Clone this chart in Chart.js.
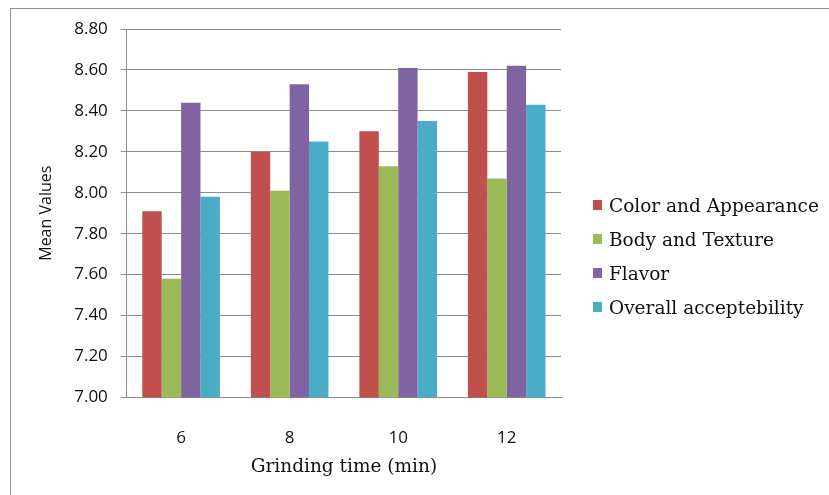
<!DOCTYPE html>
<html>
<head>
<meta charset="utf-8">
<script src="https://cdn.jsdelivr.net/npm/chart.js@4/dist/chart.umd.min.js"></script>
<style>
  body { margin: 0; background: #fff; }
  #wrap { position: relative; width: 829px; height: 495px; }
  #frame { position: absolute; left: 10px; top: 8px; width: 830px; height: 500px;
           border-left: 1px solid #8f8f8f; border-top: 1px solid #8f8f8f; }
  canvas { position: absolute; left: 0; top: 0; }
</style>
</head>
<body>
<div id="wrap">
  <div id="frame"></div>
  <canvas id="chart" width="829" height="495"></canvas>
</div>
<script>
var categorie = ['6', '8', '10', '12'];
var coloreAspetto = [7.91, 8.20, 8.30, 8.59];
var corpoTexture = [7.58, 8.01, 8.13, 8.07];
var sapore = [8.44, 8.53, 8.61, 8.62];
var accettabilita = [7.98, 8.25, 8.35, 8.43];
var nomiSerie = ['Color and Appearance', 'Body and Texture', 'Flavor', 'Overall acceptebility'];
var colori = ['#c0504d', '#9bbb59', '#8064a2', '#4bacc6'];

var valori = [coloreAspetto, corpoTexture, sapore, accettabilita];
var datasets = [];
for (var i = 0; i < valori.length; i++) {
  datasets.push({
    label: nomiSerie[i],
    data: valori[i],
    backgroundColor: colori[i],
    borderWidth: 0,
    barPercentage: 1,
    categoryPercentage: 0.715
  });
}

var grigio = '#8c8c8c';
var fontSerif = 'DejaVu Serif';

// legenda disegnata a destra del grafico (quella di Chart.js viene troncata)
var legendaDestra = {
  id: 'legendaDestra',
  afterDraw: function(chart) {
    var ctx = chart.ctx;
    var x = chart.chartArea.right + 32;
    var y = 207;
    ctx.save();
    ctx.font = '18.5px "' + fontSerif + '"';
    ctx.textBaseline = 'middle';
    chart.data.datasets.forEach(function(ds, k) {
      var yy = y + k * 34;
      ctx.fillStyle = ds.backgroundColor;
      ctx.fillRect(x, yy - 7, 9, 10);
      ctx.fillStyle = '#111';
      ctx.fillText(ds.label, x + 16, yy);
    });
    ctx.restore();
  }
};

var chart = new Chart(document.getElementById('chart'), {
  type: 'bar',
  data: {
    labels: categorie,
    datasets: datasets
  },
  plugins: [legendaDestra],
  options: {
    responsive: false,
    animation: false,
    layout: { padding: { left: 37, top: 29, right: 268, bottom: 17 } },
    plugins: {
      tooltip: { enabled: false },
      legend: { display: false }
    },
    scales: {
      x: {
        grid: { display: false, drawTicks: false },
        border: { display: true, color: grigio },
        ticks: { color: '#111', padding: 31, font: { family: 'Open Sans', size: 17 } },
        title: {
          display: true,
          text: 'Grinding time (min)',
          color: '#111',
          padding: { top: -24, bottom: 0 },
          font: { family: fontSerif, size: 18.5 }
        }
      },
      y: {
        min: 7,
        max: 8.8,
        ticks: {
          stepSize: 0.2,
          color: '#111',
          padding: 13,
          font: { family: 'Open Sans', size: 17 },
          callback: function(v) { return v.toFixed(2); }
        },
        grid: { color: grigio, tickLength: 6, lineWidth: 1 },
        border: { display: true, color: grigio },
        title: {
          display: true,
          text: 'Mean Values',
          color: '#111',
          padding: { top: 0, bottom: 5 },
          font: { family: 'Open Sans', size: 16 }
        }
      }
    }
  }
});
</script>
</body>
</html>
